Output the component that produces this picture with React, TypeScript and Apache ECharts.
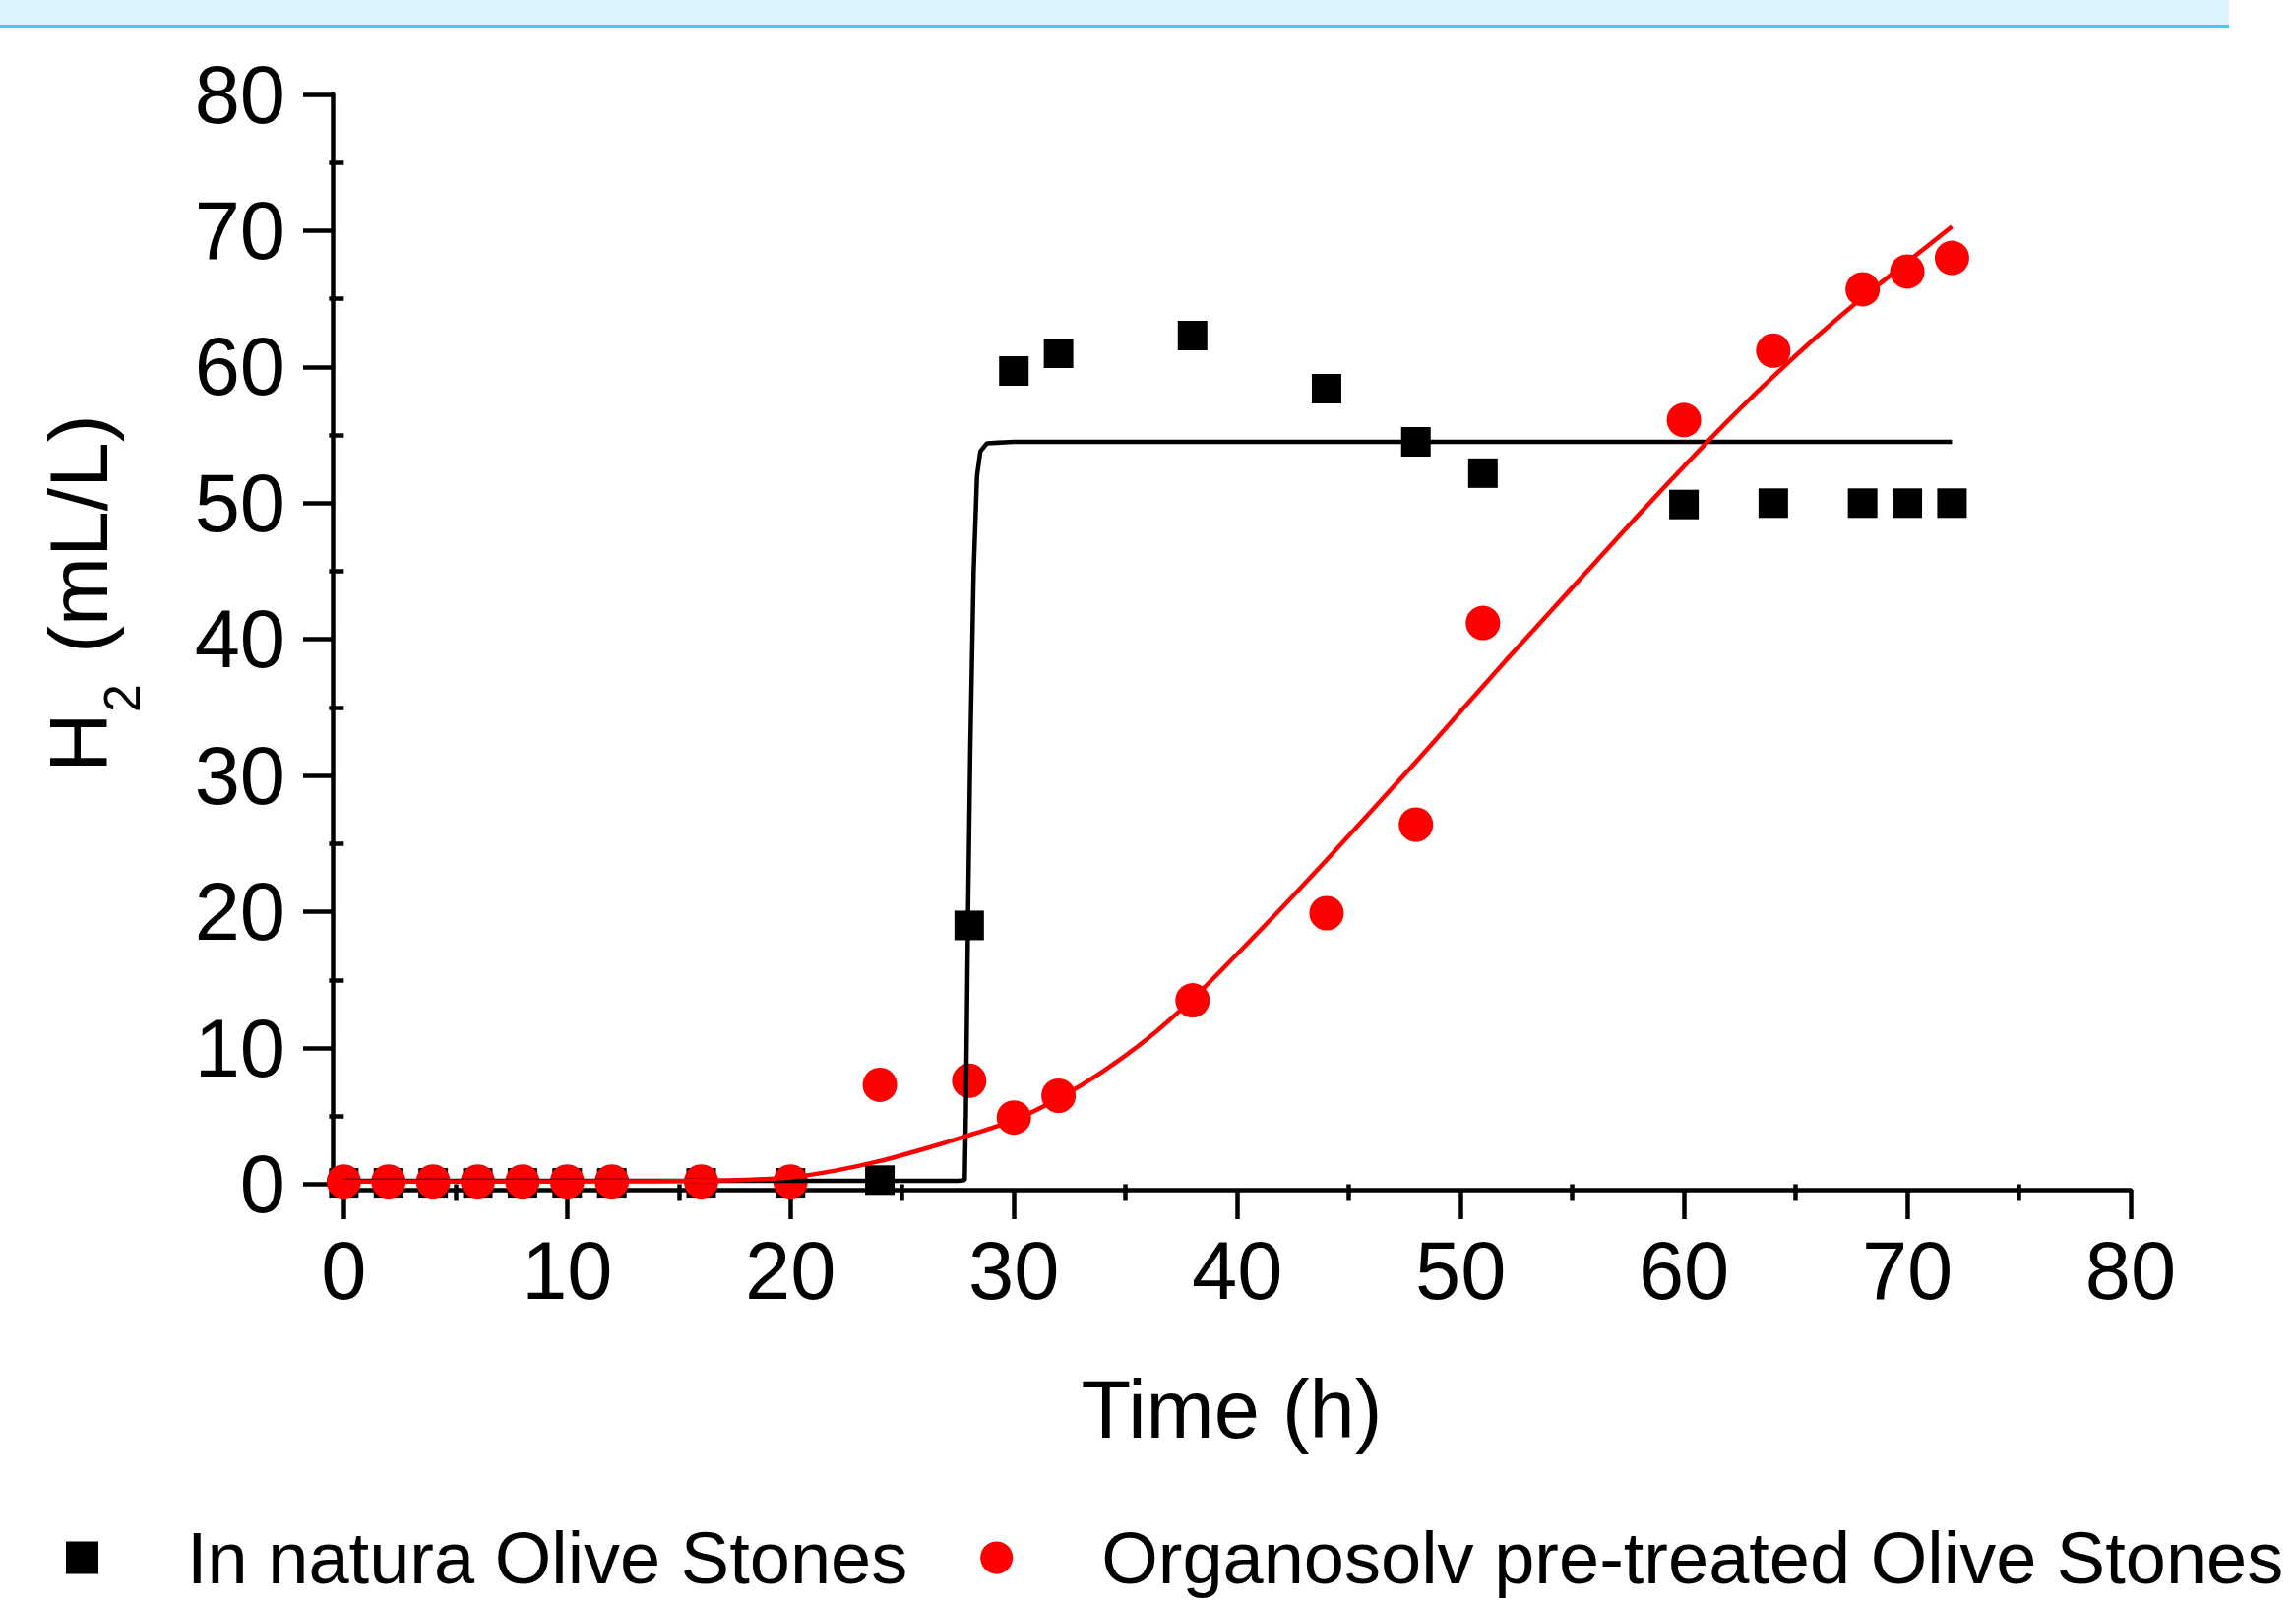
import React, { useEffect, useRef } from "react";
import * as echarts from "echarts";

// ---- data ----
const inNaturaTime = [0, 2, 4, 6, 8, 10, 12, 16, 20, 24, 28, 30, 32, 38, 44, 48, 51, 60, 64, 68, 70, 72];
const inNaturaH2 = [0.1, 0.1, 0.1, 0.1, 0.1, 0.1, 0.1, 0.1, 0.1, 0.3, 19.0, 59.7, 61.0, 62.3, 58.4, 54.5, 52.2, 49.9, 50.0, 50.0, 50.0, 50.0];

const organosolvTime = [0, 2, 4, 6, 8, 10, 12, 16, 20, 24, 28, 30, 32, 38, 44, 48, 51, 60, 64, 68, 70, 72];
const organosolvH2 = [0.2, 0.2, 0.2, 0.2, 0.2, 0.2, 0.2, 0.2, 0.2, 7.3, 7.6, 4.9, 6.5, 13.5, 19.9, 26.4, 41.2, 56.1, 61.2, 65.7, 67.0, 68.0];

// fitted curves
const inNaturaFitTime = [0, 27.5, 27.8, 27.85, 27.95, 28.05, 28.2, 28.35, 28.5, 28.8, 30, 72];
const inNaturaFitH2 = [0.25, 0.25, 0.3, 5, 20, 32, 45, 52, 53.8, 54.4, 54.5, 54.5];

const organosolvFitTime = [0, 10, 14, 16, 18, 20, 22, 24, 26, 28, 30, 32, 34, 36, 38, 40, 42, 44, 46, 48, 50, 52, 54, 56, 58, 60, 62, 64, 66, 68, 70, 72];
const organosolvFitH2 = [0.2, 0.2, 0.22, 0.25, 0.32, 0.5, 1.0, 1.7, 2.6, 3.6, 4.7, 6.3, 8.3, 10.7, 13.6, 16.9, 20.3, 23.8, 27.4, 31.0, 34.7, 38.4, 42.0, 45.6, 49.2, 52.7, 56.1, 59.3, 62.3, 65.1, 67.7, 70.3];

const majorTicks = [0, 10, 20, 30, 40, 50, 60, 70, 80];
const minorTicks = [5, 15, 25, 35, 45, 55, 65, 75];

const seriesNames = ["In natura Olive Stones", "Organosolv pre-treated Olive Stones"];
const xTitle = "Time (h)";

const FONT = "'Liberation Sans', Arial, 'DejaVu Sans', sans-serif";

function zip(xs: number[], ys: number[]) {
  return xs.map((x, i) => [x, ys[i]]);
}

export default function App() {
  const ref = useRef<HTMLDivElement>(null);

  useEffect(() => {
    if (!ref.current) return;
    const chart = echarts.init(ref.current, null, { renderer: "svg" });

    const tickLine = { color: "#000", width: 4.5 };
    const labelStyle = { color: "#000", fontSize: 83, fontFamily: FONT };

    const option: any = {
      animation: false,
      backgroundColor: "#fff",
      grid: { left: 338, top: 96, width: 1827, height: 1113 },
      legend: {
        left: 67,
        top: 1545,
        padding: 0,
        itemWidth: 33,
        itemHeight: 33,
        itemGap: 74,
        textStyle: { color: "#000", fontSize: 74, fontFamily: FONT, lineHeight: 76, padding: [0, 0, 0, 85] },
        data: [
          { name: seriesNames[0], icon: "rect" },
          { name: seriesNames[1], icon: "circle" },
        ],
      },
      xAxis: [
        {
          type: "value",
          min: -0.5,
          max: 80,
          position: "bottom",
          name: xTitle,
          nameLocation: "middle",
          nameGap: 182,
          nameTextStyle: { color: "#000", fontSize: 83, fontFamily: FONT },
          axisLine: { show: true, onZero: false, lineStyle: tickLine },
          axisTick: { show: true, length: 30, lineStyle: tickLine, customValues: majorTicks },
          axisLabel: { ...labelStyle, margin: 41, customValues: majorTicks },
          splitLine: { show: false },
        },
        {
          type: "value",
          min: -0.5,
          max: 80,
          position: "bottom",
          axisLine: { show: false },
          axisTick: { show: true, length: 16, lineStyle: tickLine, customValues: minorTicks },
          axisLabel: { show: false },
          splitLine: { show: false },
        },
      ],
      yAxis: [
        {
          type: "value",
          min: -0.4,
          max: 80,
          position: "left",
          axisLine: { show: true, onZero: false, lineStyle: tickLine },
          axisTick: { show: true, length: 30, lineStyle: tickLine, customValues: majorTicks },
          axisLabel: { ...labelStyle, margin: 48, customValues: majorTicks },
          splitLine: { show: false },
        },
        {
          type: "value",
          min: -0.4,
          max: 80,
          position: "left",
          axisLine: { show: false },
          axisTick: { show: true, length: 15, lineStyle: tickLine, customValues: minorTicks },
          axisLabel: { show: false },
          splitLine: { show: false },
        },
      ],
      series: [
        {
          name: seriesNames[0],
          type: "scatter",
          symbol: "rect",
          symbolSize: 30,
          itemStyle: { color: "#000000", opacity: 1 },
          data: zip(inNaturaTime, inNaturaH2),
        },
        {
          name: seriesNames[1],
          type: "scatter",
          symbol: "circle",
          symbolSize: 35,
          itemStyle: { color: "#ff0000", opacity: 1 },
          data: zip(organosolvTime, organosolvH2),
        },
        {
          name: "In natura fit",
          type: "line",
          showSymbol: false,
          symbol: "none",
          lineStyle: { color: "#000000", width: 4.5 },
          data: zip(inNaturaFitTime, inNaturaFitH2),
        },
        {
          name: "Organosolv fit",
          type: "line",
          showSymbol: false,
          symbol: "none",
          smooth: 0.25,
          lineStyle: { color: "#ff0000", width: 4.5 },
          data: zip(organosolvFitTime, organosolvFitH2),
        },
      ],
      graphic: [
        { type: "rect", shape: { x: 0, y: 0, width: 2265, height: 25 }, style: { fill: "#dbf3fb" }, silent: true },
        { type: "rect", shape: { x: 0, y: 25, width: 2265, height: 3 }, style: { fill: "#4ac6ee" }, silent: true },
        {
          type: "text",
          x: 80,
          y: 785,
          rotation: Math.PI / 2,
          style: { text: "H", fontSize: 84, fontFamily: FONT, fill: "#000", align: "left", verticalAlign: "middle", textAlign: "left", textVerticalAlign: "middle" },
        },
        {
          type: "text",
          x: 124,
          y: 724,
          rotation: Math.PI / 2,
          style: { text: "2", fontSize: 52, fontFamily: FONT, fill: "#000", align: "left", verticalAlign: "middle", textAlign: "left", textVerticalAlign: "middle" },
        },
        {
          type: "text",
          x: 80,
          y: 664,
          rotation: Math.PI / 2,
          style: { text: "(mL/L)", fontSize: 84, fontFamily: FONT, fill: "#000", align: "left", verticalAlign: "middle", textAlign: "left", textVerticalAlign: "middle" },
        },
      ],
    };

    chart.setOption(option);
    return () => chart.dispose();
  }, []);

  return (
    <div
      ref={ref}
      style={{ position: "fixed", left: 0, top: 0, width: 2333, height: 1627, background: "#fff" }}
    />
  );
}
